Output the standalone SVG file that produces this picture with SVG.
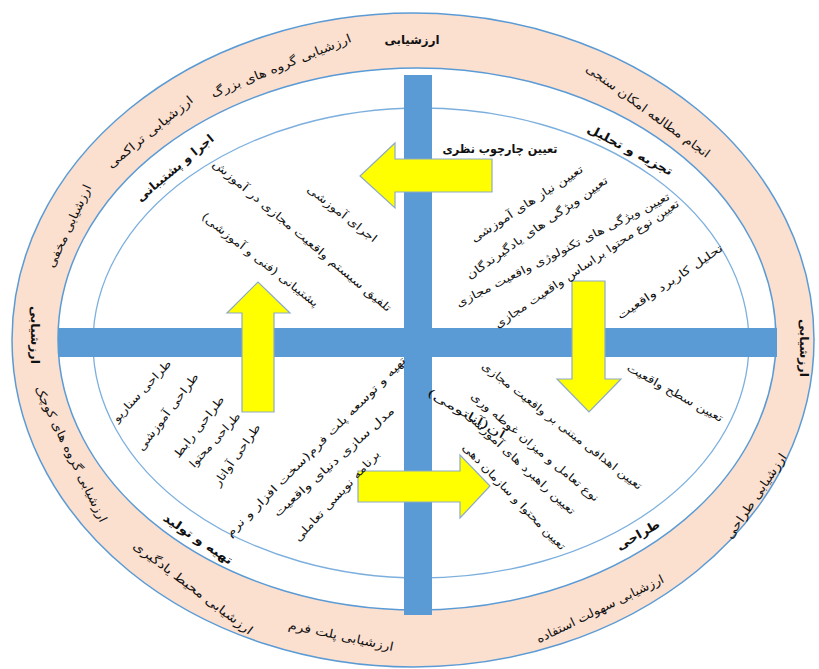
<svg xmlns="http://www.w3.org/2000/svg" width="819" height="669" viewBox="0 0 819 669">
<style>
text{font-family:"DejaVu Sans",sans-serif;fill:#111;direction:rtl;dominant-baseline:central;text-anchor:middle}
.o{font-size:12px}
.b{font-size:12px;font-weight:bold}
.i{font-size:11px}
.ring{stroke:#5b9bd5;stroke-width:1.5}
.bar{fill:#5b9bd5}
.arr{fill:#ffff00;stroke:#8ea9c8;stroke-width:1.2}
</style>
<rect width="819" height="669" fill="#ffffff"/>
<g id="rings">
<ellipse cx="413" cy="340" rx="401" ry="327" fill="#fbdfcf" class="ring"/>
<ellipse cx="417" cy="339" rx="359" ry="271" fill="#ffffff" class="ring"/>
</g>
<g id="axes">
<rect class="bar" x="58" y="328" width="719" height="29"/>
<rect class="bar" x="404" y="75" width="28" height="540"/>
<ellipse cx="421" cy="343" rx="328" ry="235" fill="none" stroke="#5b9bd5" stroke-opacity="0.8" stroke-width="1.3"/>
</g>
<g id="connectors">
<polygon class="arr" points="492,159 395,159 395,143 360,176 395,208 395,192 492,192"/>
<polygon class="arr" points="572,281 605,281 605,379 621,379 589,412 557,379 572,379"/>
<polygon class="arr" points="358,471 460,471 460,455 490,486 460,518 460,502 358,502"/>
<polygon class="arr" points="242,412 242,313 227,313 258,282 290,313 274,313 274,412"/>
</g>
<g id="evaluation">
<text class="b" transform="translate(412,40)" textLength="55" lengthAdjust="spacingAndGlyphs">ارزشیابی</text>
<text class="o" transform="translate(281,66) rotate(-22)" textLength="150" lengthAdjust="spacingAndGlyphs">ارزشیابی گروه های بزرگ</text>
<text class="o" transform="translate(150,132) rotate(-39)" textLength="107" lengthAdjust="spacingAndGlyphs">ارزشیابی تراکمی</text>
<text class="o" transform="translate(69,226) rotate(-65)" textLength="90" lengthAdjust="spacingAndGlyphs">ارزشیابی مخفی</text>
<text class="b" transform="translate(35,335) rotate(90)" textLength="58" lengthAdjust="spacingAndGlyphs">ارزشیابی</text>
<text class="o" transform="translate(71,454) rotate(64)" textLength="150" lengthAdjust="spacingAndGlyphs">ارزشیابی گروه های کوچک</text>
<text class="o" transform="translate(193,588) rotate(37)" textLength="146" lengthAdjust="spacingAndGlyphs">ارزشیابی محیط یادگیری</text>
<text class="o" transform="translate(341,636) rotate(12)" textLength="107" lengthAdjust="spacingAndGlyphs">ارزشیابی پلت فرم</text>
<text class="o" transform="translate(600,609) rotate(-26)" textLength="140" lengthAdjust="spacingAndGlyphs">ارزشیابی سهولت استفاده</text>
<text class="o" transform="translate(756,496) rotate(-56)" textLength="100" lengthAdjust="spacingAndGlyphs">ارزشیابی طراحی</text>
<text class="b" transform="translate(804,348) rotate(90)" textLength="58" lengthAdjust="spacingAndGlyphs">ارزشیابی</text>
<text class="o" transform="translate(648,111) rotate(36)" textLength="150" lengthAdjust="spacingAndGlyphs">انجام مطالعه امکان سنجی</text>
</g>
<g id="analysis">
<text class="b" transform="translate(630,150) rotate(28)" textLength="95" lengthAdjust="spacingAndGlyphs">تجزیه و تحلیل</text>
<text class="b" transform="translate(500,149)" textLength="115" lengthAdjust="spacingAndGlyphs">تعیین چارچوب نظری</text>
<text class="i" transform="translate(527,204) rotate(-33)" textLength="131" lengthAdjust="spacingAndGlyphs">تعیین نیاز های آموزشی</text>
<text class="i" transform="translate(537,228) rotate(-35)" textLength="170" lengthAdjust="spacingAndGlyphs">تعیین ویژگی های یادگیرندگان</text>
<text class="i" transform="translate(563,250) rotate(-27)" textLength="238" lengthAdjust="spacingAndGlyphs">تعیین ویژگی های تکنولوژی واقعیت مجازی</text>
<text class="i" transform="translate(587,264) rotate(-34)" textLength="220" lengthAdjust="spacingAndGlyphs">تعیین نوع محتوا براساس واقعیت مجازی</text>
<text class="i" transform="translate(670,282) rotate(-34)" textLength="125" lengthAdjust="spacingAndGlyphs">تحلیل کاربرد واقعیت</text>
<text class="i" transform="translate(675,393) rotate(29)" textLength="108" lengthAdjust="spacingAndGlyphs">تعیین سطح واقعیت</text>
</g>
<g id="design">
<text class="b" transform="translate(638,535) rotate(-30)" textLength="48" lengthAdjust="spacingAndGlyphs">طراحی</text>
<text class="i" transform="translate(562,426) rotate(38)" textLength="200" lengthAdjust="spacingAndGlyphs">تعیین اهدافی مبتنی بر واقعیت مجازی</text>
<text class="i" transform="translate(535,447) rotate(40)" textLength="163" lengthAdjust="spacingAndGlyphs">نوع تعامل و میزان غوطه وری</text>
<text class="i" transform="translate(520,463) rotate(43)" textLength="146" lengthAdjust="spacingAndGlyphs">تعیین راهبرد های آموزشی</text>
<text class="i" transform="translate(466,414) rotate(30)" textLength="88" lengthAdjust="spacingAndGlyphs">آن(آناتومی)</text>
<text class="i" transform="translate(514,497) rotate(46)" textLength="143" lengthAdjust="spacingAndGlyphs">تعیین محتوا و سازمان دهی</text>
</g>
<g id="production">
<text class="b" transform="translate(198,539) rotate(34)" textLength="81" lengthAdjust="spacingAndGlyphs">تهیه و تولید</text>
<text class="i" transform="translate(142,391) rotate(-47)" textLength="80" lengthAdjust="spacingAndGlyphs">طراحی سناریو</text>
<text class="i" transform="translate(168,412) rotate(-53)" textLength="94" lengthAdjust="spacingAndGlyphs">طراحی آموزشی</text>
<text class="i" transform="translate(199,427) rotate(-52)" textLength="75" lengthAdjust="spacingAndGlyphs">طراحی رابط</text>
<text class="i" transform="translate(215,440) rotate(-48)" textLength="70" lengthAdjust="spacingAndGlyphs">طراحی محتوا</text>
<text class="i" transform="translate(237,455) rotate(-55)" textLength="73" lengthAdjust="spacingAndGlyphs">طراحی آواتار</text>
<text class="i" transform="translate(316,447) rotate(-45)" textLength="249" lengthAdjust="spacingAndGlyphs">تهیه و توسعه پلت فرم(سخت افزار و نرم</text>
<text class="i" transform="translate(334,462) rotate(-42)" textLength="158" lengthAdjust="spacingAndGlyphs">مدل سازی دنیای واقعیت</text>
<text class="i" transform="translate(337,496) rotate(-47)" textLength="120" lengthAdjust="spacingAndGlyphs">برنامه نویسی تعاملی</text>
</g>
<g id="implementation">
<text class="b" transform="translate(175,168) rotate(-40)" textLength="97" lengthAdjust="spacingAndGlyphs">اجرا و پشتیبانی</text>
<text class="i" transform="translate(342,214) rotate(38)" textLength="85" lengthAdjust="spacingAndGlyphs">اجرای آموزشی</text>
<text class="i" transform="translate(302,236) rotate(40)" textLength="229" lengthAdjust="spacingAndGlyphs">تلفیق سیستم واقعیت مجازی در آموزش</text>
<text class="i" transform="translate(260,260) rotate(38)" textLength="145" lengthAdjust="spacingAndGlyphs">پشتیبانی (فنی و آموزشی)</text>
</g>
</svg>
